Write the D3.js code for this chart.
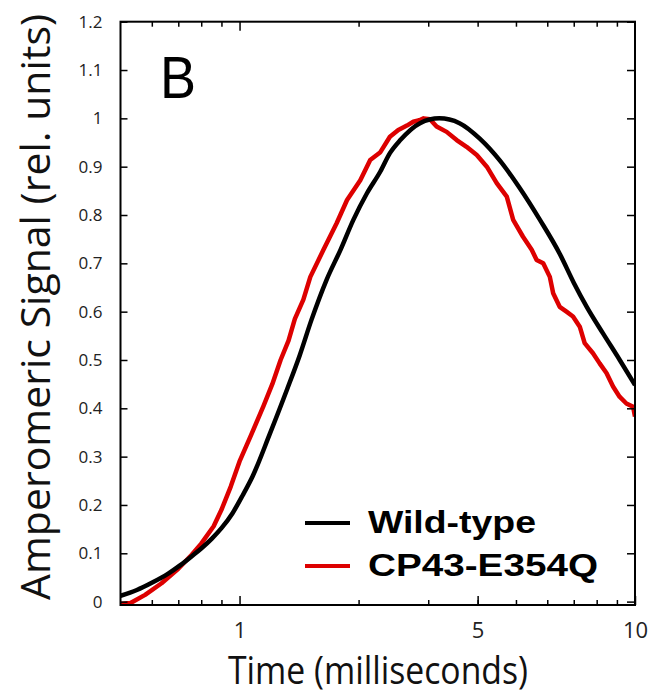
<!DOCTYPE html>
<html>
<head>
<meta charset="utf-8">
<script src="https://cdn.jsdelivr.net/npm/d3@7"></script>
<style>
  body { margin: 0; background: #fff; }
  text { font-family: "Open Sans", "Noto Sans", sans-serif; }
</style>
</head>
<body>
<script>
// Wild-type trace (time in ms, normalized signal)
const timeWT = [0.5, 0.55, 0.6, 0.66, 0.71, 0.76, 0.8, 0.85, 0.9, 0.96,
  1.02, 1.08, 1.19, 1.32, 1.42, 1.52, 1.66, 1.8, 1.94, 2.1,
  2.27, 2.4, 2.55, 2.86, 3.2, 3.6, 4.05, 4.55, 5.1, 5.75,
  6.45, 7.0, 7.55, 8.3, 9.15, 10];
const valueWT = [0.012, 0.024, 0.039, 0.058, 0.076, 0.095, 0.110, 0.130, 0.152, 0.183,
  0.221, 0.26, 0.345, 0.44, 0.51, 0.583, 0.666, 0.728, 0.790, 0.845,
  0.89, 0.928, 0.955, 0.99, 1.0, 0.99, 0.958, 0.913, 0.857, 0.79,
  0.72, 0.66, 0.61, 0.555, 0.50, 0.448];

// CP43-E354Q trace
const timeMut = [0.5, 0.53, 0.577, 0.635, 0.70, 0.757, 0.80, 0.86, 0.9, 0.95,
  1.0, 1.07, 1.15, 1.21, 1.27, 1.33, 1.38, 1.45, 1.51, 1.63,
  1.76, 1.87, 2.02, 2.14, 2.27, 2.40, 2.52, 2.65, 2.75, 2.85,
  2.92, 3.03, 3.15, 3.34, 3.54, 3.75, 3.98, 4.22, 4.47, 4.74,
  4.92, 5.21, 5.48, 5.64, 5.86, 6.09, 6.21, 6.45, 6.71, 6.97,
  7.25, 7.46, 7.83, 8.14, 8.47, 8.8, 9.14, 9.51, 9.89, 10];
const valueMut = [-0.005, -0.003, 0.014, 0.038, 0.068, 0.097, 0.120, 0.156, 0.19, 0.238,
  0.29, 0.345, 0.405, 0.45, 0.50, 0.54, 0.585, 0.625, 0.672, 0.728,
  0.783, 0.831, 0.872, 0.914, 0.93, 0.962, 0.976, 0.985, 0.993, 0.996,
  1.0, 0.998, 0.983, 0.972, 0.955, 0.941, 0.924, 0.900, 0.866, 0.838,
  0.79, 0.755, 0.728, 0.707, 0.700, 0.672, 0.638, 0.610, 0.600, 0.590,
  0.569, 0.535, 0.514, 0.493, 0.473, 0.445, 0.424, 0.41, 0.403, 0.383];

const seriesNames = ["Wild-type", "CP43-E354Q"];
const seriesColors = ["#000000", "#dd0000"];

const xTickValues = [1, 4, 10];        // where the labels sit on the log axis
const xTickLabels = ["1", "5", "10"];  // as printed in the figure
const xMinorTicks = [0.6, 0.7, 0.8, 0.9, 2, 3, 4, 5, 6, 7, 8, 9];
const yTicks = d3.range(0, 13).map(i => i / 10);

const width = 652, height = 698;
const plotL = 120.5, plotR = 635, plotT = 21.7, plotB = 605;

let svg = d3.select("body")
  .append("svg")
  .attr("width", width)
  .attr("height", height);

const x = d3.scaleLog()
  .domain([0.5, 10])
  .range([plotL, plotR]);

const y = d3.scaleLinear()
  .domain([-0.007, 1.2])
  .range([plotB, plotT]);

// clip for curves
svg.append("clipPath").attr("id", "plot")
  .append("rect")
  .attr("x", plotL).attr("y", plotT)
  .attr("width", plotR - plotL).attr("height", plotB - plotT);

const line = d3.line()
  .x(d => x(d[0]))
  .y(d => y(d[1]));

const wt = timeWT.map((t, i) => [t, valueWT[i]]);
const mut = timeMut.map((t, i) => [t, valueMut[i]]);

svg.append("path")
  .datum(mut)
  .attr("clip-path", "url(#plot)")
  .attr("d", line.curve(d3.curveLinear))
  .attr("fill", "none")
  .attr("stroke", seriesColors[1])
  .attr("stroke-width", 4.5)
  .attr("stroke-linejoin", "round");

svg.append("path")
  .datum(wt)
  .attr("clip-path", "url(#plot)")
  .attr("d", line.curve(d3.curveMonotoneX))
  .attr("fill", "none")
  .attr("stroke", seriesColors[0])
  .attr("stroke-width", 4.5);

// axes: ticks pointing inward on all four sides
const axisStyle = g => {
  g.select(".domain").remove();
  g.selectAll("line").attr("stroke", "#000").attr("stroke-width", 1.5);
  g.selectAll("text").attr("fill", "#222");
};

svg.append("g")
  .attr("transform", `translate(${plotL},0)`)
  .call(d3.axisLeft(y).tickValues(yTicks).tickSize(-7).tickPadding(18)
    .tickFormat(d => d3.format("")(+d.toFixed(1))))
  .call(axisStyle)
  .selectAll("text").style("font-size", "17px");

svg.append("g")
  .attr("transform", `translate(${plotR},0)`)
  .call(d3.axisRight(y).tickValues(yTicks).tickSize(-8).tickFormat(""))
  .call(axisStyle);

svg.append("g")
  .attr("transform", `translate(0,${plotB})`)
  .call(d3.axisBottom(x).tickValues(xMinorTicks).tickSize(-5).tickFormat(""))
  .call(axisStyle);

svg.append("g")
  .attr("transform", `translate(0,${plotT})`)
  .call(d3.axisTop(x).tickValues(xMinorTicks).tickSize(-5).tickFormat(""))
  .call(axisStyle);

svg.append("g")
  .attr("transform", `translate(0,${plotB})`)
  .call(d3.axisBottom(x).tickValues(xTickValues).tickSize(-9).tickPadding(17)
    .tickFormat((d, i) => xTickLabels[i]))
  .call(axisStyle)
  .selectAll("text").style("font-size", "22px");

svg.append("g")
  .attr("transform", `translate(0,${plotT})`)
  .call(d3.axisTop(x).tickValues([1]).tickSize(-9).tickFormat(""))
  .call(axisStyle);

// frame
svg.append("rect")
  .attr("x", plotL).attr("y", plotT)
  .attr("width", plotR - plotL).attr("height", plotB - plotT)
  .attr("fill", "none")
  .attr("stroke", "#000")
  .attr("stroke-width", 2);

// axis titles
svg.append("text")
  .attr("x", 228).attr("y", 684)
  .attr("textLength", 300)
  .attr("lengthAdjust", "spacingAndGlyphs")
  .style("font-size", "38px")
  .attr("fill", "#111")
  .text("Time (milliseconds)");

svg.append("text")
  .attr("transform", "translate(50,600) rotate(-90)")
  .attr("textLength", 586)
  .attr("lengthAdjust", "spacingAndGlyphs")
  .style("font-size", "40px")
  .attr("fill", "#111")
  .text("Amperomeric Signal (rel. units)");

// panel letter
svg.append("text")
  .attr("x", 160).attr("y", 98)
  .style("font-family", "'Liberation Sans', Arial, sans-serif")
  .style("font-size", "60px")
  .attr("textLength", 36)
  .attr("lengthAdjust", "spacingAndGlyphs")
  .text("B");

// legend
const legendY = [523, 566];
const legendLen = [168, 230];
seriesNames.forEach((name, i) => {
  svg.append("line")
    .attr("x1", 305).attr("x2", 350)
    .attr("y1", legendY[i]).attr("y2", legendY[i])
    .attr("stroke", seriesColors[i])
    .attr("stroke-width", 4);
  svg.append("text")
    .attr("x", 368).attr("y", legendY[i] + 10)
    .style("font-family", "'Liberation Sans', Arial, sans-serif")
    .style("font-weight", "bold")
    .style("font-size", "31px")
    .attr("textLength", legendLen[i])
    .attr("lengthAdjust", "spacingAndGlyphs")
    .text(name);
});
</script>
</body>
</html>
